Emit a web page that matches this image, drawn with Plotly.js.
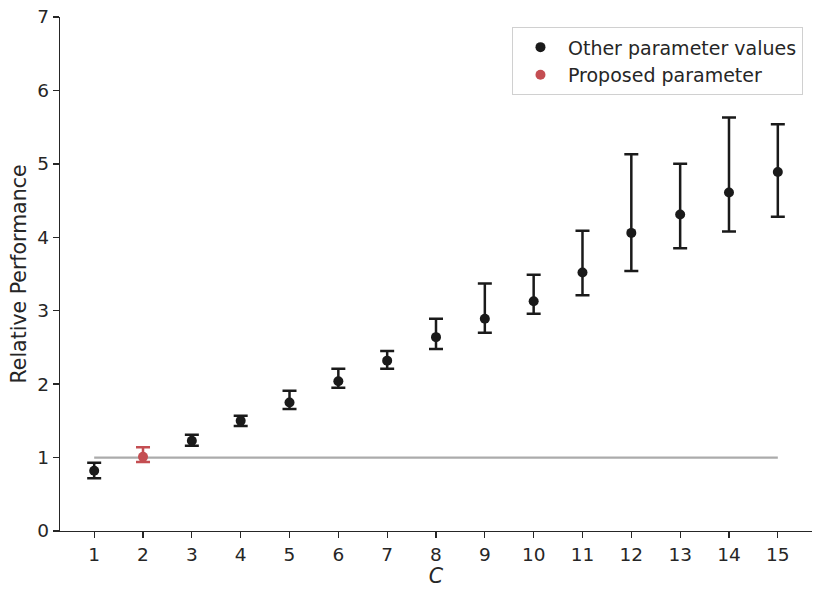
<!DOCTYPE html>
<html>
<head>
<meta charset="utf-8">
<script src="https://cdn.plot.ly/plotly-3.0.1.min.js"></script>
<style>html,body{margin:0;padding:0;background:#fff;}</style>
</head>
<body>
<div id="chart" style="width:831px;height:598px;"></div>
<script>
// Data
const otherC = [1, 3, 4, 5, 6, 7, 8, 9, 10, 11, 12, 13, 14, 15];
const otherVal = [0.82, 1.23, 1.50, 1.75, 2.04, 2.32, 2.64, 2.89, 3.13, 3.52, 4.06, 4.31, 4.61, 4.89];
const otherHi = [0.93, 1.31, 1.57, 1.91, 2.21, 2.45, 2.89, 3.37, 3.49, 4.09, 5.13, 5.00, 5.63, 5.54];
const otherLo = [0.72, 1.16, 1.43, 1.66, 1.95, 2.21, 2.48, 2.70, 2.96, 3.21, 3.54, 3.85, 4.08, 4.28];
const propC = [2];
const propVal = [1.01];
const propHi = [1.14];
const propLo = [0.94];
const refX = [1, 15];
const refY = [1, 1];
const xTicks = [1,2,3,4,5,6,7,8,9,10,11,12,13,14,15];
const yTicks = [0,1,2,3,4,5,6,7];

const plus = (hi, v) => hi.map((h, i) => h - v[i]);
const minus = (lo, v) => lo.map((l, i) => v[i] - l);

const traces = [
  {x: refX, y: refY, mode: 'lines', line: {color: '#ababab', width: 2.2}, showlegend: false, hoverinfo: 'skip'},
  {x: otherC, y: otherVal, mode: 'markers', name: 'Other parameter values',
   marker: {color: '#1a1a1a', size: 10},
   error_y: {type: 'data', symmetric: false, array: plus(otherHi, otherVal), arrayminus: minus(otherLo, otherVal),
             color: '#1a1a1a', thickness: 2.5, width: 7}},
  {x: propC, y: propVal, mode: 'markers', name: 'Proposed parameter',
   marker: {color: '#c44e52', size: 10},
   error_y: {type: 'data', symmetric: false, array: plus(propHi, propVal), arrayminus: minus(propLo, propVal),
             color: '#c44e52', thickness: 2.5, width: 7}}
];

const axisCommon = {
  showgrid: false, zeroline: false, showline: true, linecolor: '#262626', linewidth: 1.3,
  ticks: 'outside', ticklen: 6, tickwidth: 1.3, tickcolor: '#262626',
  tickfont: {family: 'DejaVu Sans', size: 18.5, color: '#262626'}
};

const layout = {
  width: 831, height: 598,
  margin: {l: 60, r: 19, t: 17, b: 67},
  paper_bgcolor: '#fff', plot_bgcolor: '#fff',
  font: {family: 'DejaVu Sans', color: '#262626'},
  xaxis: Object.assign({}, axisCommon, {
    range: [0.3, 15.7], tickvals: xTicks, ticktext: xTicks.map(String),
    title: {text: '<i>C</i>', font: {family: 'DejaVu Sans', size: 20.5, color: '#262626'}, standoff: 3}
  }),
  yaxis: Object.assign({}, axisCommon, {
    range: [0, 7], tickvals: yTicks, ticktext: yTicks.map(String),
    title: {text: 'Relative Performance', font: {family: 'DejaVu Sans', size: 20.5, color: '#262626'}, standoff: 5}
  }),
  legend: {
    x: 0.988, xanchor: 'right', y: 0.98, yanchor: 'top',
    bgcolor: '#fff', bordercolor: '#d0d0d0', borderwidth: 1,
    itemwidth: 45,
    font: {family: 'DejaVu Sans', size: 19, color: '#262626'}
  },
  showlegend: true
};

Plotly.newPlot('chart', traces, layout, {displayModeBar: false, staticPlot: true});
</script>
</body>
</html>
